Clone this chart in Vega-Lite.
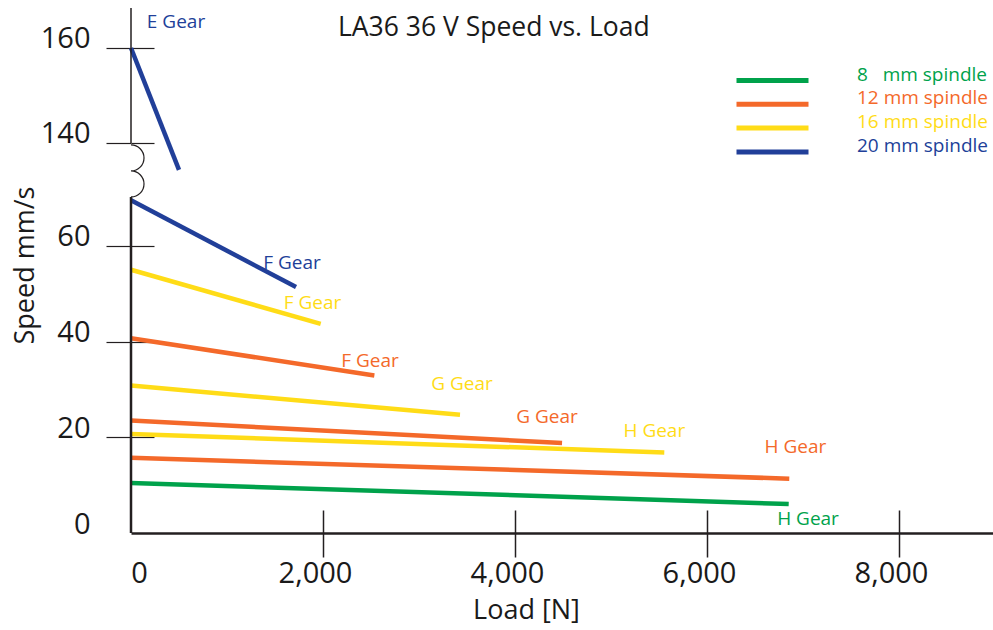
{
  "$schema": "https://vega.github.io/schema/vega-lite/v6.json",
  "width": 862,
  "height": 523,
  "autosize": {"type": "none"},
  "padding": {"left": 131, "top": 10, "right": 0, "bottom": 97},
  "background": "white",
  "config": {"font": "Open Sans", "view": {"stroke": null}},
  "title": {"text": "LA36 36 V Speed vs. Load", "anchor": "start", "frame": "group", "dx": 207, "offset": -55, "baseline": "alphabetic", "fontSize": 26.5, "fontWeight": "normal", "color": "#1a1a1a"},
  "datasets": {
    "lines": [
      {"seg": "E20", "spindle": "20 mm spindle", "load": 0, "speed": 160},
      {"seg": "E20", "spindle": "20 mm spindle", "load": 500, "speed": 134.3},
      {"seg": "F20", "spindle": "20 mm spindle", "load": 0, "speed": 69.5},
      {"seg": "F20", "spindle": "20 mm spindle", "load": 1719, "speed": 51.4},
      {"seg": "F16", "spindle": "16 mm spindle", "load": 0, "speed": 55.0},
      {"seg": "F16", "spindle": "16 mm spindle", "load": 1976, "speed": 43.7},
      {"seg": "F12", "spindle": "12 mm spindle", "load": 0, "speed": 40.7},
      {"seg": "F12", "spindle": "12 mm spindle", "load": 2535, "speed": 32.9},
      {"seg": "G16", "spindle": "16 mm spindle", "load": 0, "speed": 30.8},
      {"seg": "G16", "spindle": "16 mm spindle", "load": 3427, "speed": 24.7},
      {"seg": "G12", "spindle": "12 mm spindle", "load": 0, "speed": 23.5},
      {"seg": "G12", "spindle": "12 mm spindle", "load": 4490, "speed": 18.8},
      {"seg": "H16", "spindle": "16 mm spindle", "load": 0, "speed": 20.7},
      {"seg": "H16", "spindle": "16 mm spindle", "load": 5555, "speed": 16.8},
      {"seg": "H12", "spindle": "12 mm spindle", "load": 0, "speed": 15.7},
      {"seg": "H12", "spindle": "12 mm spindle", "load": 6857, "speed": 11.35},
      {"seg": "H8", "spindle": "8 mm spindle", "load": 0, "speed": 10.45},
      {"seg": "H8", "spindle": "8 mm spindle", "load": 6851, "speed": 6.06}
    ],
    "labels": [
      {"label": "E Gear", "spindle": "20 mm spindle", "load": 469, "speed": 165.4},
      {"label": "F Gear", "spindle": "20 mm spindle", "load": 1677, "speed": 56.4},
      {"label": "F Gear", "spindle": "16 mm spindle", "load": 1891, "speed": 48.1},
      {"label": "F Gear", "spindle": "12 mm spindle", "load": 2490, "speed": 36.0},
      {"label": "G Gear", "spindle": "16 mm spindle", "load": 3448, "speed": 31.1},
      {"label": "G Gear", "spindle": "12 mm spindle", "load": 4333, "speed": 24.2},
      {"label": "H Gear", "spindle": "16 mm spindle", "load": 5451, "speed": 21.4},
      {"label": "H Gear", "spindle": "12 mm spindle", "load": 6920, "speed": 18.0},
      {"label": "H Gear", "spindle": "8 mm spindle", "load": 7052, "speed": 3.0}
    ]
  },
  "layer": [
    {
      "data": {"name": "lines"},
      "mark": {"type": "line", "strokeWidth": 4.5, "strokeCap": "butt"},
      "encoding": {
        "x": {"field": "load", "type": "quantitative",
          "scale": {"domain": [0, 8979], "nice": false, "zero": false},
          "axis": {"orient": "bottom", "values": [0, 2000, 4000, 6000, 8000], "format": ",.0f", "grid": false,
            "tickSize": 24, "tickWidth": 1.5, "tickColor": "#231f20",
            "tickOpacity": {"condition": {"test": "datum.value === 0", "value": 0}, "value": 1},
            "labelFlush": false,
            "labelBaseline": "alphabetic", "labelPadding": 25, "labelFontSize": 29, "labelColor": "#1a1a1a",
            "labelOffset": {"condition": {"test": "datum.value === 0", "value": 8}, "value": -8},
            "domain": true, "domainWidth": 2.5, "domainColor": "#231f20",
            "title": "Load [N]", "titleFontSize": 27, "titleFontWeight": "normal", "titleColor": "#1a1a1a",
            "titleX": 395, "titleY": 85, "titleBaseline": "alphabetic", "titleAlign": "center"}},
        "y": {"field": "speed", "type": "quantitative",
          "scale": {"domain": [0, 70.2, 128.6, 168], "range": [523, 187, 187, 0], "nice": false, "zero": false},
          "axis": {"orient": "left", "values": [0, 20, 40, 60, 140, 160], "grid": false,
            "tickSize": 25, "tickWidth": 1.2, "tickColor": "#231f20",
            "tickOpacity": {"condition": {"test": "datum.value === 0", "value": 0}, "value": 1},
            "labelFlush": false,
            "labelPadding": 16, "labelFontSize": 29, "labelColor": "#1a1a1a", "labelOffset": -9, "labelAlign": "right",
            "domain": false,
            "title": "Speed mm/s", "titleFontSize": 27, "titleFontWeight": "normal", "titleColor": "#1a1a1a",
            "titleX": -98, "titleY": 255, "titleAngle": 270, "titleBaseline": "alphabetic", "titleAlign": "center"}},
        "color": {"field": "spindle", "type": "nominal",
          "scale": {"domain": ["8 mm spindle", "12 mm spindle", "16 mm spindle", "20 mm spindle"],
                    "range": ["#00a24b", "#f4692a", "#ffdc17", "#213f99"]},
          "legend": {"title": null, "orient": "none", "legendX": 630, "legendY": 59,
            "symbolType": "M-4,0H4", "symbolSize": 324, "symbolStrokeWidth": 5, "symbolFillColor": "transparent",
            "labelFontSize": 19, "labelOffset": 73, "rowPadding": -2.2,
            "labelExpr": "datum.label == '8 mm spindle' ? '8\u00a0\u00a0\u00a0mm spindle' : datum.label",
            "encode": {"labels": {"update": {"fill": {"scale": "color", "field": "value"}, "dy": {"value": -6}}}}}},
        "detail": {"field": "seg"}
      }
    },
    {
      "data": {"name": "labels"},
      "mark": {"type": "text", "fontSize": 19, "align": "center", "baseline": "middle"},
      "encoding": {
        "x": {"field": "load", "type": "quantitative",
          "axis": {"orient": "top", "offset": -523, "values": [2000, 4000, 6000, 8000], "grid": false,
            "tickSize": 23, "tickWidth": 1.5, "tickColor": "#231f20", "labels": false, "domain": false, "title": null}},
        "y": {"field": "speed", "type": "quantitative",
          "axis": {"orient": "right", "offset": -862, "values": [20, 40, 60, 140, 160], "grid": false,
            "tickSize": 23, "tickWidth": 1.2, "tickColor": "#231f20", "labels": false, "domain": false, "title": null}},
        "text": {"field": "label"},
        "color": {"field": "spindle", "type": "nominal", "legend": null}
      }
    },
    {
      "data": {"values": [{}]},
      "mark": {"type": "rule", "strokeWidth": 2.5, "color": "#231f20"},
      "encoding": {
        "x": {"datum": 0, "type": "quantitative", "axis": null},
        "y": {"datum": 0, "type": "quantitative", "axis": null},
        "y2": {"datum": 70.2}
      }
    },
    {
      "data": {"values": [{}]},
      "mark": {"type": "rule", "strokeWidth": 1.5, "color": "#231f20"},
      "encoding": {
        "x": {"datum": 0, "type": "quantitative", "axis": null},
        "y": {"datum": 140, "type": "quantitative", "axis": null},
        "y2": {"datum": 168.4}
      }
    },
    {
      "data": {"values": [{}]},
      "mark": {"type": "point", "shape": "M0,-1A0.5,0.5 0 0 1 0,0A0.5,0.5 0 0 1 0,1", "size": 2704, "filled": false, "stroke": "#231f20", "strokeWidth": 1.2, "opacity": 1},
      "encoding": {
        "x": {"datum": 0, "type": "quantitative", "axis": null},
        "y": {"datum": 134.1, "type": "quantitative", "axis": null}
      }
    }
  ],
  "resolve": {"axis": {"x": "independent", "y": "independent"}}
}
